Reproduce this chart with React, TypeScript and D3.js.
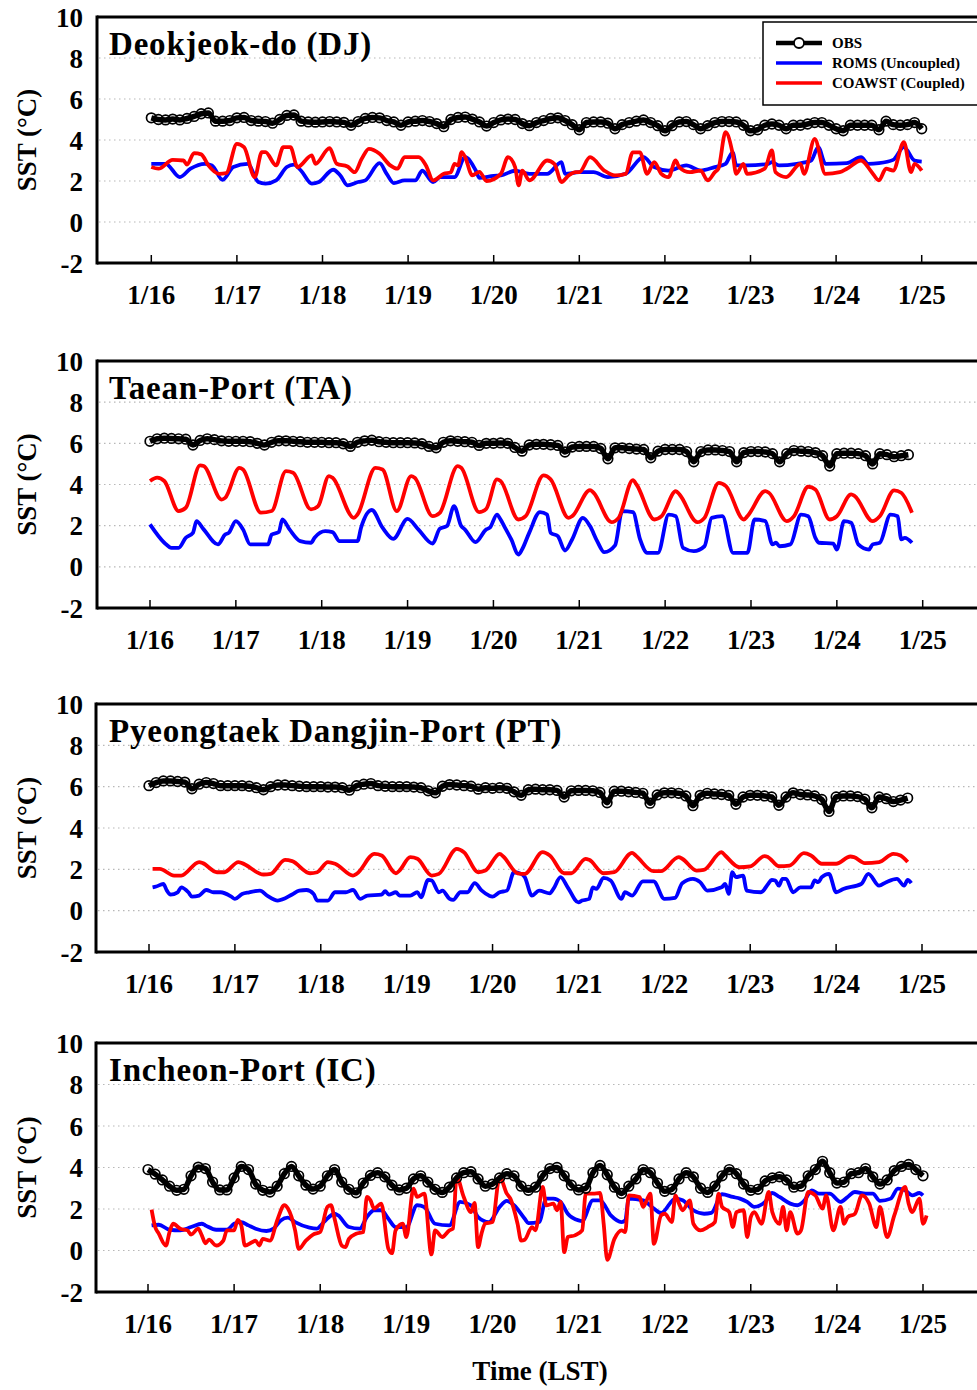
import React from "react";
import * as d3 from "d3";

// ---------- data ----------
const DAY_LABELS = ["1/16", "1/17", "1/18", "1/19", "1/20", "1/21", "1/22", "1/23", "1/24", "1/25"];
const Y_TICKS = [-2, 0, 2, 4, 6, 8, 10];
const GRID_VALUES = [0, 2, 4, 6, 8];
const OBS_STEP_HOURS = 2; // observations sampled every 2 h from 1/16 00 LST
const SERIES_NAMES = ["OBS", "ROMS (Uncoupled)", "COAWST (Coupled)"];
const STATION_TITLES = ["Deokjeok-do (DJ)", "Taean-Port (TA)", "Pyeongtaek Dangjin-Port (PT)", "Incheon-Port (IC)"];

const DJ_OBS = [
  5.08, 5.0, 4.98, 5.02, 4.98, 5.05, 5.15, 5.28, 5.32, 4.92, 4.92, 4.95,
  5.08, 5.1, 4.95, 4.92, 4.9, 4.82, 5.0, 5.2, 5.22, 4.92, 4.88, 4.87,
  4.88, 4.9, 4.88, 4.86, 4.72, 4.9, 5.05, 5.1, 5.08, 4.95, 4.88, 4.72,
  4.88, 4.92, 4.95, 4.9, 4.8, 4.65, 5.0, 5.1, 5.12, 5.02, 4.88, 4.68,
  4.85, 4.98, 5.02, 5.0, 4.8, 4.7, 4.85, 4.95, 5.05, 5.08, 4.95, 4.75,
  4.5, 4.85, 4.88, 4.88, 4.82, 4.55, 4.75, 4.85, 4.92, 4.98, 4.85, 4.7,
  4.45, 4.7, 4.88, 4.9, 4.75, 4.55, 4.7, 4.85, 4.9, 4.9, 4.88, 4.72,
  4.45, 4.5, 4.72, 4.78, 4.72, 4.55, 4.72, 4.72, 4.78, 4.85, 4.85, 4.72,
  4.55, 4.45, 4.72, 4.72, 4.72, 4.72, 4.5, 4.92, 4.75, 4.72, 4.75, 4.85,
  4.55,
];
const DJ_ROMS: [number, number][] = [
  [0, 2.84], [4, 2.84], [8, 2.19], [11, 2.6], [15, 2.84], [17, 2.76], [20, 2.06], [23, 2.68], [27, 2.84], [30, 1.95],
  [32, 1.87], [35, 2.03], [38, 2.68], [40, 2.8], [42, 2.5], [45, 1.87], [47, 1.95], [51, 2.55], [53, 2.27], [55, 1.79],
  [58, 1.95], [60, 2.03], [64, 2.87], [66, 2.35], [68, 1.9], [71, 2.03], [74, 2.03], [76, 2.5], [79, 1.95], [81, 2.19],
  [85, 2.19], [88, 3.16], [91, 2.5], [92, 2.15], [96, 2.25], [98, 2.27], [102, 2.5], [106, 2.35], [111, 2.35], [115, 2.92],
  [116, 2.35], [120, 2.43], [124, 2.43], [128, 2.19], [133, 2.35], [138, 3.16], [141, 2.68], [145, 2.51], [150, 2.76], [154, 2.51],
  [158, 2.68], [161, 2.84], [163, 3.4], [164, 2.76], [167, 2.76], [173, 2.84], [174, 2.92], [176, 2.76], [181, 2.84], [185, 3.0],
  [187, 3.65], [189, 2.84], [195, 2.87], [199, 3.16], [201, 2.84], [204, 2.87], [208, 3.03], [211, 3.65], [214, 3.0], [216, 2.95],
];
const DJ_COAWST: [number, number][] = [
  [0, 2.68], [2, 2.6], [6, 3.03], [9, 3.0], [10, 2.8], [12, 3.36], [14, 3.3], [16, 2.76], [19, 2.35], [21, 2.38],
  [24, 3.81], [26, 3.65], [29, 2.19], [31, 3.41], [32, 3.41], [35, 2.76], [37, 3.65], [39, 3.65], [41, 2.68], [45, 3.25],
  [46, 2.84], [50, 3.6], [52, 2.84], [55, 2.71], [57, 2.43], [59, 3.08], [61, 3.57], [64, 3.33], [67, 2.76], [69, 2.6],
  [71, 3.16], [75, 3.16], [77, 2.76], [79, 2.03], [82, 2.35], [84, 2.43], [85, 2.84], [86, 2.76], [87, 3.41], [88, 3.16],
  [90, 2.27], [92, 2.45], [94, 2.0], [98, 2.35], [100, 3.16], [102, 2.68], [103, 1.79], [104, 2.51], [106, 2.03], [111, 3.0],
  [113, 2.84], [115, 1.95], [117, 2.27], [119, 2.43], [120, 2.43], [123, 3.16], [127, 2.51], [130, 2.27], [133, 2.35], [135, 3.4],
  [137, 3.4], [139, 2.35], [141, 2.92], [143, 2.35], [145, 2.19], [147, 3.0], [148, 2.68], [151, 2.43], [154, 2.51], [156, 2.03],
  [158, 2.43], [159, 2.6], [161, 4.38], [163, 3.33], [164, 2.35], [166, 2.84], [167, 2.35], [172, 2.6], [174, 3.49], [175, 2.43],
  [178, 2.19], [182, 2.84], [183, 2.35], [186, 4.05], [189, 2.35], [193, 2.43], [195, 2.6], [199, 3.0], [202, 2.43], [204, 2.03],
  [206, 2.6], [208, 2.51], [211, 3.9], [213, 2.43], [214, 2.84], [216, 2.51],
];

const TA_OBS = [
  6.1, 6.22, 6.25, 6.24, 6.22, 6.2, 5.92, 6.14, 6.22, 6.18, 6.12, 6.1,
  6.1, 6.1, 6.08, 6.0, 5.92, 6.05, 6.12, 6.12, 6.1, 6.08, 6.05, 6.05,
  6.05, 6.03, 6.03, 5.98, 5.85, 6.05, 6.12, 6.15, 6.08, 6.05, 6.03, 6.03,
  6.03, 6.02, 5.98, 5.85, 5.78, 6.05, 6.12, 6.1, 6.08, 6.05, 5.9, 6.0,
  6.0, 6.02, 6.0, 5.8, 5.62, 5.92, 5.95, 5.95, 5.93, 5.9, 5.58, 5.82,
  5.85, 5.85, 5.85, 5.75, 5.25, 5.78, 5.78, 5.75, 5.72, 5.7, 5.3, 5.62,
  5.7, 5.7, 5.7, 5.6, 5.1, 5.6, 5.68, 5.68, 5.65, 5.6, 5.1, 5.55,
  5.6, 5.6, 5.58, 5.5, 5.1, 5.5, 5.65, 5.62, 5.6, 5.55, 5.4, 4.9,
  5.5, 5.52, 5.52, 5.5, 5.4, 5.0, 5.5, 5.45, 5.35, 5.4, 5.45,
];
const TA_ROMS: [number, number][] = [
  [0, 2.06], [4, 1.17], [6, 0.92], [8, 0.92], [10, 1.41], [12, 1.65], [13, 2.22], [15, 1.82], [19, 1.09], [21, 1.57],
  [22, 1.65], [24, 2.22], [26, 1.82], [28, 1.09], [33, 1.09], [34, 1.57], [36, 1.69], [37, 2.3], [39, 1.82], [42, 1.25],
  [45, 1.17], [46, 1.41], [49, 1.73], [51, 1.69], [53, 1.25], [58, 1.25], [59, 1.9], [62, 2.76], [65, 1.9], [68, 1.36],
  [72, 2.33], [75, 1.82], [79, 1.13], [81, 1.85], [83, 1.98], [85, 2.95], [87, 1.98], [88, 1.82], [91, 1.2], [94, 1.82],
  [95, 1.9], [97, 2.54], [98, 2.3], [99, 1.98], [101, 1.33], [103, 0.6], [104, 0.84], [106, 1.65], [109, 2.66], [111, 2.54],
  [112, 1.65], [114, 1.49], [116, 0.79], [118, 1.33], [121, 2.38], [123, 1.98], [125, 1.25], [127, 0.71], [130, 1.04], [132, 2.71],
  [135, 2.66], [137, 1.33], [139, 0.68], [142, 0.68], [145, 2.54], [147, 2.46], [149, 0.92], [152, 0.76], [155, 1.0], [157, 2.38],
  [160, 2.46], [163, 0.68], [167, 0.68], [169, 2.3], [172, 2.22], [174, 1.09], [175, 1.17], [176, 1.0], [179, 1.09], [182, 2.54],
  [184, 2.46], [186, 1.41], [187, 1.17], [191, 1.13], [192, 0.84], [194, 2.22], [196, 2.14], [198, 1.09], [201, 0.84], [202, 1.09],
  [204, 1.17], [207, 2.54], [209, 2.46], [210, 1.33], [211, 1.41], [213, 1.17],
];
const TA_COAWST: [number, number][] = [
  [0, 4.17], [2, 4.33], [4, 4.17], [8, 2.71], [10, 2.87], [14, 4.93], [15, 4.9], [20, 3.27], [21, 3.35], [25, 4.81],
  [26, 4.73], [31, 2.63], [34, 2.71], [38, 4.65], [40, 4.57], [45, 2.79], [47, 2.95], [50, 4.41], [51, 4.33], [57, 2.38],
  [58, 2.54], [63, 4.81], [65, 4.73], [69, 2.71], [73, 4.41], [74, 4.33], [79, 2.46], [81, 2.62], [86, 4.89], [87, 4.81],
  [92, 2.66], [94, 2.82], [97, 4.25], [98, 4.17], [103, 2.3], [105, 2.46], [110, 4.44], [112, 4.25], [117, 2.38], [118, 2.46],
  [123, 3.73], [124, 3.6], [129, 2.17], [131, 2.38], [135, 4.21], [136, 4.0], [141, 2.3], [143, 2.46], [147, 3.68], [148, 3.52],
  [153, 2.17], [155, 2.38], [159, 4.08], [161, 3.92], [166, 2.3], [167, 2.46], [172, 3.68], [173, 3.6], [178, 2.22], [180, 2.46],
  [184, 3.89], [186, 3.76], [190, 2.3], [192, 2.46], [196, 3.52], [197, 3.44], [202, 2.22], [204, 2.46], [208, 3.71], [210, 3.6],
  [213, 2.63],
];

const PT_OBS = [
  6.05, 6.2, 6.28, 6.28, 6.25, 6.22, 5.9, 6.12, 6.2, 6.15, 6.05, 6.05,
  6.05, 6.05, 6.02, 5.95, 5.85, 6.0, 6.08, 6.08, 6.05, 6.02, 6.0, 6.0,
  6.0, 5.98, 5.98, 5.95, 5.83, 6.05, 6.12, 6.15, 6.05, 6.02, 6.0, 6.0,
  6.0, 5.98, 5.95, 5.8, 5.7, 6.02, 6.1, 6.08, 6.05, 6.02, 5.88, 5.95,
  5.92, 5.95, 5.92, 5.75, 5.58, 5.85, 5.88, 5.85, 5.85, 5.82, 5.5, 5.8,
  5.82, 5.82, 5.8, 5.72, 5.22, 5.78, 5.78, 5.75, 5.72, 5.68, 5.2, 5.6,
  5.7, 5.7, 5.68, 5.55, 5.08, 5.58, 5.68, 5.65, 5.62, 5.58, 5.15, 5.5,
  5.58, 5.58, 5.55, 5.5, 5.1, 5.5, 5.7, 5.62, 5.6, 5.55, 5.38, 4.8,
  5.5, 5.55, 5.55, 5.52, 5.4, 4.98, 5.5, 5.42, 5.28, 5.35, 5.45,
];
const PT_ROMS: [number, number][] = [
  [1, 1.13], [2, 1.17], [4, 1.29], [5, 0.97], [6, 0.78], [8, 0.89], [9, 1.13], [11, 0.89], [12, 0.68], [14, 0.73],
  [16, 1.0], [18, 0.89], [20, 0.89], [23, 0.68], [24, 0.57], [26, 0.81], [28, 0.89], [31, 0.97], [33, 0.73], [36, 0.49],
  [40, 0.78], [42, 0.97], [44, 1.0], [46, 0.81], [47, 0.49], [50, 0.49], [52, 0.89], [55, 0.89], [57, 1.0], [59, 0.57],
  [61, 0.73], [65, 0.78], [66, 0.94], [67, 0.78], [69, 0.89], [70, 0.73], [73, 0.73], [75, 0.89], [76, 0.65], [78, 1.49],
  [79, 1.46], [81, 0.89], [82, 0.97], [84, 0.57], [85, 0.52], [87, 0.89], [89, 0.89], [91, 1.33], [93, 0.97], [95, 0.73],
  [96, 0.68], [98, 0.89], [100, 0.97], [102, 1.86], [104, 1.78], [105, 1.62], [107, 0.73], [109, 0.97], [112, 0.84], [113, 1.05],
  [115, 1.62], [117, 1.13], [120, 0.4], [121, 0.49], [123, 0.57], [124, 1.13], [125, 1.05], [127, 1.59], [129, 1.46], [132, 0.57],
  [133, 0.89], [135, 0.73], [138, 1.42], [141, 1.42], [144, 0.57], [147, 0.62], [149, 1.33], [152, 1.54], [154, 1.38], [156, 0.97],
  [160, 1.13], [161, 1.29], [162, 0.81], [163, 1.86], [164, 1.62], [166, 1.7], [167, 0.97], [171, 0.89], [173, 1.29], [174, 1.49],
  [175, 1.46], [176, 1.21], [177, 1.54], [178, 1.54], [180, 0.89], [182, 1.13], [185, 1.13], [186, 1.46], [187, 1.38], [188, 1.62],
  [190, 1.78], [192, 0.89], [194, 1.05], [199, 1.29], [201, 1.78], [204, 1.21], [206, 1.38], [209, 1.54], [211, 1.21], [212, 1.49],
  [213, 1.33],
];
const PT_COAWST: [number, number][] = [
  [1, 2.02], [3, 2.02], [7, 1.7], [9, 1.7], [14, 2.35], [15, 2.3], [19, 1.86], [21, 1.86], [25, 2.35], [26, 2.3],
  [32, 1.75], [34, 1.78], [38, 2.46], [40, 2.4], [45, 1.81], [47, 1.86], [50, 2.35], [52, 2.27], [57, 1.7], [58, 1.78],
  [63, 2.75], [65, 2.67], [69, 1.81], [70, 1.94], [73, 2.59], [75, 2.51], [79, 1.7], [81, 1.78], [86, 2.99], [88, 2.83],
  [92, 1.86], [94, 1.94], [98, 2.75], [99, 2.62], [103, 1.81], [105, 1.78], [110, 2.83], [112, 2.67], [116, 1.81], [118, 1.81],
  [122, 2.51], [123, 2.46], [127, 1.81], [130, 1.86], [135, 2.8], [136, 2.67], [141, 1.91], [143, 1.91], [148, 2.59], [149, 2.51],
  [153, 1.94], [155, 1.97], [160, 2.83], [161, 2.67], [165, 2.1], [168, 2.14], [172, 2.64], [173, 2.59], [176, 2.15], [179, 2.18],
  [183, 2.78], [185, 2.67], [188, 2.27], [192, 2.27], [196, 2.62], [197, 2.59], [200, 2.3], [204, 2.35], [208, 2.75], [210, 2.67],
  [212, 2.35],
];

const IC_OBS = [
  3.9, 3.68, 3.4, 3.1, 2.9, 2.95, 3.6, 4.02, 3.95, 3.3, 2.92, 2.92,
  3.5, 4.05, 3.9, 3.2, 2.9, 2.82, 3.1, 3.7, 4.05, 3.6, 3.15, 2.96,
  3.1, 3.6, 3.9, 3.3, 2.95, 2.78, 3.25, 3.62, 3.75, 3.55, 3.15, 2.92,
  3.0, 3.45, 3.6, 3.3, 2.95, 2.8, 3.05, 3.5, 3.75, 3.8, 3.45, 3.1,
  3.2, 3.5, 3.7, 3.6, 3.1, 2.9, 3.05, 3.6, 3.95, 4.0, 3.6, 3.15,
  2.92, 3.0, 3.75, 4.1, 3.65, 3.05, 2.75, 3.1, 3.45, 3.9, 3.75, 3.25,
  2.85, 2.95, 3.45, 3.75, 3.55, 3.0, 2.8, 3.1, 3.6, 3.9, 3.7, 3.2,
  2.9, 2.95, 3.35, 3.5, 3.55, 3.4, 3.05, 3.1, 3.6, 3.9, 4.3, 3.75,
  3.25, 3.3, 3.7, 3.75, 3.95, 3.55, 3.2, 3.4, 3.85, 4.05, 4.15, 3.9,
  3.6,
];
const IC_ROMS: [number, number][] = [
  [1, 1.21], [3, 1.24], [6, 1.0], [9, 0.97], [12, 1.13], [15, 1.29], [16, 1.21], [19, 1.0], [22, 1.0], [24, 1.29],
  [26, 1.37], [28, 1.21], [30, 1.05], [33, 0.94], [35, 1.05], [37, 1.45], [39, 1.58], [41, 1.37], [45, 1.1], [47, 1.05],
  [49, 1.37], [52, 1.77], [53, 1.69], [56, 1.13], [59, 1.05], [61, 1.61], [63, 1.94], [65, 1.94], [67, 1.53], [69, 1.13],
  [72, 1.13], [75, 2.18], [77, 2.1], [80, 1.29], [84, 1.21], [87, 2.34], [90, 2.18], [92, 1.61], [95, 1.37], [98, 2.1],
  [100, 2.39], [102, 2.18], [105, 1.53], [106, 1.32], [109, 1.37], [111, 2.5], [113, 2.5], [115, 2.34], [117, 1.77], [120, 1.45],
  [121, 1.42], [124, 2.42], [126, 2.42], [129, 1.69], [132, 1.37], [133, 1.45], [134, 2.5], [138, 2.42], [141, 2.02], [143, 1.81],
  [147, 2.5], [149, 2.42], [152, 1.94], [155, 1.77], [157, 1.81], [160, 2.71], [163, 2.58], [165, 2.5], [167, 2.34], [169, 2.1],
  [172, 2.34], [174, 2.77], [176, 2.58], [179, 2.26], [181, 2.18], [183, 2.42], [185, 2.9], [187, 2.74], [190, 2.74], [193, 2.34],
  [195, 2.58], [197, 2.82], [200, 2.74], [202, 2.74], [204, 2.39], [207, 2.5], [209, 2.98], [211, 2.9], [213, 2.66], [215, 2.77],
  [216, 2.66],
];
const IC_COAWST: [number, number][] = [
  [1, 1.97], [2, 1.13], [3, 0.81], [5, 0.24], [6, 0.89], [7, 1.29], [9, 1.05], [11, 0.97], [12, 0.77], [14, 1.05],
  [15, 0.73], [16, 0.35], [17, 0.52], [19, 0.24], [21, 0.48], [22, 0.97], [24, 0.97], [25, 1.48], [26, 1.21], [27, 0.24],
  [29, 0.4], [30, 0.48], [31, 0.24], [32, 0.56], [34, 0.48], [36, 1.45], [38, 2.18], [39, 2.02], [41, 0.97], [42, 0.08],
  [44, 0.48], [46, 0.77], [48, 0.89], [50, 2.1], [51, 2.18], [52, 1.53], [54, 0.24], [55, 0.16], [56, 0.56], [58, 0.81],
  [60, 0.89], [61, 2.58], [62, 2.42], [63, 2.02], [65, 2.26], [67, 0.08], [68, -0.13], [69, 0.97], [71, 1.29], [72, 0.65],
  [74, 2.98], [75, 2.58], [77, 2.74], [79, -0.19], [80, 0.97], [82, 0.65], [84, 0.97], [85, 1.05], [86, 3.55], [88, 2.58],
  [90, 1.85], [91, 2.3], [92, 0.16], [93, 0.85], [94, 1.3], [96, 1.37], [98, 3.55], [100, 2.74], [101, 2.5], [103, 1.29],
  [104, 0.48], [105, 0.52], [107, 1.13], [108, 0.97], [110, 3.06], [111, 2.18], [113, 2.26], [114, 1.94], [115, 2.34], [116, -0.08],
  [117, 0.65], [119, 0.73], [121, 0.97], [122, 2.74], [124, 2.74], [126, 2.77], [127, 1.29], [128, -0.45], [130, 0.56], [132, 0.97],
  [133, 0.89], [134, 2.66], [137, 2.58], [138, 2.1], [139, 2.42], [140, 2.74], [141, 0.32], [143, 1.69], [144, 1.77], [146, 1.37],
  [147, 2.66], [148, 2.26], [149, 1.94], [151, 2.42], [152, 1.29], [154, 0.97], [156, 1.13], [158, 1.37], [159, 2.74], [160, 2.1],
  [162, 1.85], [163, 1.13], [164, 1.85], [166, 1.94], [167, 0.65], [168, 1.61], [169, 1.85], [171, 1.29], [173, 2.82], [174, 1.85],
  [176, 1.29], [177, 2.1], [178, 0.97], [179, 1.85], [181, 0.81], [182, 0.97], [184, 2.82], [186, 2.66], [188, 2.02], [189, 2.66],
  [191, 0.97], [193, 2.1], [194, 1.29], [195, 1.61], [197, 1.77], [199, 2.66], [201, 2.26], [203, 1.13], [204, 2.1], [206, 0.65],
  [208, 1.69], [211, 3.06], [212, 2.26], [213, 1.85], [215, 2.5], [216, 1.29], [217, 1.69],
];

// ---------- layout ----------
const W = 977;
const H = 1390;
const PANEL_FRAMES = [
  { top: 17, bottom: 263, left: 97, x0: 151.3, x1: 921.7 },
  { top: 361, bottom: 608, left: 97, x0: 150, x1: 922.7 },
  { top: 704, bottom: 952, left: 96, x0: 149, x1: 922 },
  { top: 1043, bottom: 1292, left: 96, x0: 148, x1: 923 },
];
const COLORS = { obs: "#000000", roms: "#0000ff", coawst: "#ff0000" };
const FONT = "'Liberation Serif', 'Times New Roman', serif";

export default function App() {
  const panels = [
    { title: STATION_TITLES[0], obs: DJ_OBS, roms: DJ_ROMS, coawst: DJ_COAWST },
    { title: STATION_TITLES[1], obs: TA_OBS, roms: TA_ROMS, coawst: TA_COAWST },
    { title: STATION_TITLES[2], obs: PT_OBS, roms: PT_ROMS, coawst: PT_COAWST },
    { title: STATION_TITLES[3], obs: IC_OBS, roms: IC_ROMS, coawst: IC_COAWST },
  ];

  return (
    <svg
      width={W}
      height={H}
      viewBox={`0 0 ${W} ${H}`}
      style={{ position: "absolute", left: 0, top: 0, background: "#fff" }}
      fontFamily={FONT}
      fontWeight="bold"
    >
      <rect x={0} y={0} width={W} height={H} fill="#fff" />
      {panels.map((p, pi) => {
        const f = PANEL_FRAMES[pi];
        const x = d3.scaleLinear().domain([0, 216]).range([f.x0, f.x1]);
        const y = d3.scaleLinear().domain([-2, 10]).range([f.bottom, f.top]);
        const line = d3
          .line<[number, number]>()
          .x((d) => x(d[0]))
          .y((d) => y(d[1]))
          .curve(d3.curveMonotoneX);
        const obsPts: [number, number][] = p.obs.map((v, i) => [i * OBS_STEP_HOURS, v]);
        const rightEdge = W + 5;
        return (
          <g key={pi}>
            {GRID_VALUES.map((g) => (
              <line
                key={g}
                x1={f.left + 2}
                x2={rightEdge}
                y1={y(g)}
                y2={y(g)}
                stroke="#b8b8b8"
                strokeWidth={1.1}
                strokeDasharray="1.5,3.5"
              />
            ))}
            <path d={line(p.roms) || ""} fill="none" stroke={COLORS.roms} strokeWidth={3.8} strokeLinejoin="round" />
            <path d={line(p.coawst) || ""} fill="none" stroke={COLORS.coawst} strokeWidth={3.8} strokeLinejoin="round" />
            <path d={line(obsPts) || ""} fill="none" stroke={COLORS.obs} strokeWidth={5.5} strokeLinejoin="round" />
            {obsPts.map((d, i) => (
              <circle key={i} cx={x(d[0])} cy={y(d[1])} r={4.8} fill="none" stroke={COLORS.obs} strokeWidth={1.7} />
            ))}
            {/* frame */}
            <line x1={f.left} x2={rightEdge} y1={f.top} y2={f.top} stroke="#000" strokeWidth={3} />
            <line x1={f.left} x2={rightEdge} y1={f.bottom} y2={f.bottom} stroke="#000" strokeWidth={3} />
            <line x1={f.left} x2={f.left} y1={f.top - 1.5} y2={f.bottom + 1.5} stroke="#000" strokeWidth={3} />
            {DAY_LABELS.map((lab, di) => (
              <g key={lab}>
                <line x1={x(di * 24)} x2={x(di * 24)} y1={f.bottom} y2={f.bottom - 8} stroke="#000" strokeWidth={1.5} />
                <text x={x(di * 24)} y={f.bottom + 41} textAnchor="middle" fontSize={27}>
                  {lab}
                </text>
              </g>
            ))}
            {Y_TICKS.map((t) => (
              <text key={t} x={83} y={y(t) + 9.5} textAnchor="end" fontSize={27}>
                {t}
              </text>
            ))}
            <text
              transform={`translate(36, ${(f.top + f.bottom) / 2}) rotate(-90)`}
              textAnchor="middle"
              fontSize={27}
            >
              SST (°C)
            </text>
            <text x={109} y={f.top + 38} fontSize={33} letterSpacing={0.8}>
              {p.title}
            </text>
            {pi === 0 && (
              <g>
                <rect x={763} y={22} width={230} height={83} fill="#fff" stroke="#000" strokeWidth={1.5} />
                {SERIES_NAMES.map((name, si) => {
                  const ly = 43 + si * 20;
                  const col = si === 0 ? COLORS.obs : si === 1 ? COLORS.roms : COLORS.coawst;
                  return (
                    <g key={name}>
                      <line x1={776} x2={822} y1={ly} y2={ly} stroke={col} strokeWidth={si === 0 ? 4.5 : 3.4} />
                      {si === 0 && <circle cx={799} cy={ly} r={5} fill="#fff" stroke="#000" strokeWidth={1.8} />}
                      <text x={832} y={ly + 5} fontSize={15}>
                        {name}
                      </text>
                    </g>
                  );
                })}
              </g>
            )}
          </g>
        );
      })}
      <text x={540} y={1380} textAnchor="middle" fontSize={27}>
        Time (LST)
      </text>
    </svg>
  );
}
